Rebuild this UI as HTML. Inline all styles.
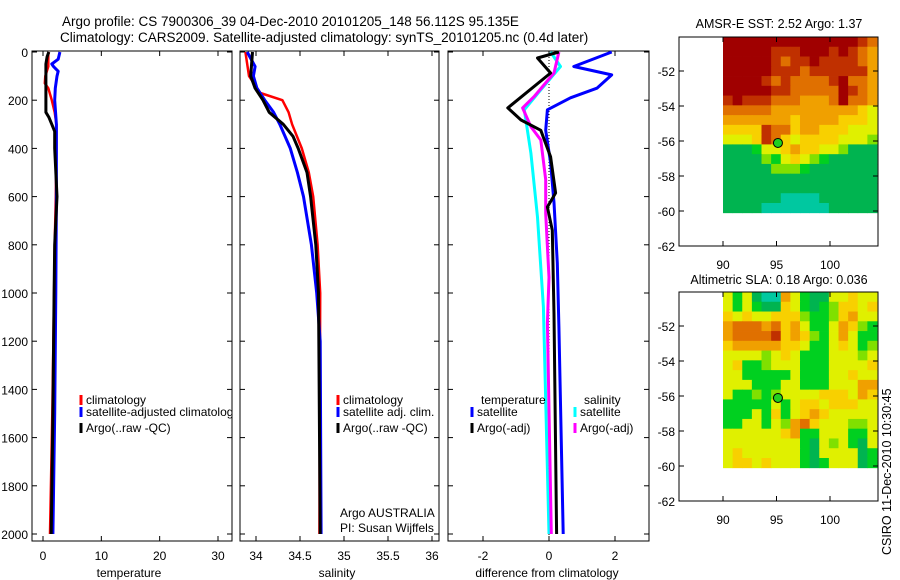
<!DOCTYPE html>
<html><head><meta charset="utf-8">
<style>
html,body{margin:0;padding:0;background:#fff;}
svg{display:block;font-family:"Liberation Sans",sans-serif;}
text{fill:#000;}
</style></head>
<body>
<svg id="fig" width="900" height="580" viewBox="0 0 900 580" xmlns="http://www.w3.org/2000/svg">
<rect width="900" height="580" fill="#fff"/>
<text x="62" y="26" font-size="13.5">Argo profile: CS 7900306_39 04-Dec-2010 20101205_148 56.112S 95.135E</text>
<text x="60" y="42" font-size="13.5">Climatology: CARS2009. Satellite-adjusted climatology: synTS_20101205.nc (0.4d later)</text>
<g id="plots"></g>
<text x="779" y="28" font-size="12.5" text-anchor="middle">AMSR-E SST: 2.52 Argo: 1.37</text>
<text x="779" y="284" font-size="12.5" text-anchor="middle">Altimetric SLA: 0.18 Argo: 0.036</text>
<text transform="translate(891,555) rotate(-90)" font-size="12.5">CSIRO 11-Dec-2010 10:30:45</text>
</svg>
<script>
// ---- depth axis ticks
const depthTicks = [0,200,400,600,800,1000,1200,1400,1600,1800,2000];
// ---- temperature panel
const tempTicks = [0,10,20,30];
const tempClimDepth = [0,10,60,100,130,150,200,250,300,400,600,800,1000,1500,2000];
const tempClim = [1.0,0.9,0.9,0.4,0.3,0.9,1.5,2.0,2.3,2.3,2.2,2.0,1.9,1.6,1.2];
const tempSatDepth = [0,30,50,60,80,100,150,200,300,400,600,1000,1500,2000];
const tempSat = [2.9,2.6,1.5,1.8,2.6,2.4,2.1,2.0,2.3,2.3,2.3,2.2,2.0,1.7];
const tempArgoDepth = [0,20,50,150,250,270,300,330,400,600,800,1000,1500,2000];
const tempArgo = [1.0,0.7,0.5,0.5,0.5,1.0,1.5,2.0,2.0,2.4,2.0,1.9,1.7,1.4];
// ---- salinity panel
const salTicks = [34,34.5,35,35.5,36];
const salTickLabels = ["34","34.5","35","35.5","36"];
const salClimDepth = [0,100,170,200,250,300,400,500,600,800,1000,2000];
const salClim = [33.88,33.92,34.05,34.30,34.37,34.41,34.52,34.60,34.65,34.70,34.73,34.72];
const salSatDepth = [0,60,100,150,200,250,300,400,500,600,800,1000,1200,2000];
const salSat = [33.90,33.99,33.97,34.01,34.10,34.20,34.27,34.39,34.47,34.54,34.63,34.69,34.73,34.74];
const salArgoDepth = [0,50,100,150,200,250,300,350,400,500,600,800,1000,2000];
const salArgo = [33.96,33.95,33.94,33.99,34.08,34.15,34.31,34.42,34.48,34.58,34.62,34.68,34.71,34.73];
// ---- difference panel
const diffTicks = [-2,0,2];
const dTempSatDepth = [0,60,95,150,190,240,325,460,625,875,1140,2000];
const dTempSat = [1.9,0.75,1.9,1.45,0.65,-0.05,-0.1,0.05,0.15,0.25,0.3,0.43];
const dTempArgoDepth = [0,25,87,232,282,325,435,585,643,740,1085,2000];
const dTempArgo = [0.3,-0.35,0.05,-1.25,-0.85,-0.25,0.05,0.2,-0.05,0.1,0.15,0.23];
const dSalSatDepth = [0,60,157,240,420,685,1058,2000];
const dSalSat = [0.05,0.35,-0.25,-0.75,-0.55,-0.35,-0.17,0.0];
const dSalArgoDepth = [0,87,185,232,310,365,530,670,935,1125,2000];
const dSalArgo = [0.3,0.15,-0.45,-0.8,-0.55,-0.25,-0.1,-0.1,0.0,-0.05,0.07];
// ---- maps
const latTicks = [-52,-54,-56,-58,-60,-62];
const lonTicks = [90,95,100];
const sstGrid = [
"9999999999999987","9999988899989876","9999987889888876","9999988878888886",
"9999878777789776","9999988777779876","8988877766679776","7777766666666654",
"6666666566665554","5555877566555444","4445875455554443","1112445655443111",
"1111324543211111","1111133321111111","1111111111111111","1111111111111111",
"1111110000111111","1111000000011111"];
const slaGrid = [
"4241006421144544","4242115421235545","5454455532235644","6777675642246532",
"6777785653246422","5666665542245423","4444345422244434","4522344422244445",
"4422222422244544","4442224422244466","4223234444555465","2222242455455544",
"2224252456544444","2244243675444334","4444445622444224","4444444421434214",
"4544444421444412","4554544421244412"];
const argoLon = 95.135, argoLat = -56.112;

const NS = "http://www.w3.org/2000/svg";
const root = document.getElementById('plots');
function mk(tag, attrs, parent){const e=document.createElementNS(NS,tag);for(const k in attrs)e.setAttribute(k,attrs[k]);(parent||root).appendChild(e);return e;}
function lin(d0,d1,r0,r1){return v=>r0+(v-d0)*(r1-r0)/(d1-d0);}
const yD = lin(0,2000,52,534);
const TOP=51, BOT=541;

function panel(name,x0,x1,xs,ticks,labels,xlabel,xlabelX){
  const g=mk('g',{});
  
  
  const r=mk('rect',{x:x0,y:TOP,width:x1-x0,height:BOT-TOP,fill:'none',stroke:'#000','stroke-width':1},g);
  
  
  ticks.forEach((t,i)=>{
    const x=xs(t);
    mk('line',{x1:x,x2:x,y1:BOT,y2:BOT-5,stroke:'#000'},g);
    mk('line',{x1:x,x2:x,y1:TOP,y2:TOP+5,stroke:'#000'},g);
    const tl=mk('text',{x:x,y:BOT+19,'font-size':12,'text-anchor':'middle'},g);
    tl.textContent=labels[i];
    
    
  });
  depthTicks.forEach(d=>{
    mk('line',{x1:x0,x2:x0+5,y1:yD(d),y2:yD(d),stroke:'#000'},g);
    mk('line',{x1:x1,x2:x1-5,y1:yD(d),y2:yD(d),stroke:'#000'},g);
  });
  const xl=mk('text',{x:xlabelX,y:577,'font-size':12,'text-anchor':'middle'},g);
  xl.textContent=xlabel;
  
  
  return g;
}
function series(g,name,xs,depths,vals,color,w){
  const pts=depths.map((d,i)=>xs(vals[i]).toFixed(1)+','+yD(d).toFixed(1)).join(' ');
  const p=mk('polyline',{points:pts,fill:'none',stroke:color,'stroke-width':w,'stroke-linejoin':'round'},g);
  
  
}
function legend(g,name,x,y,color,label){
  mk('line',{x1:x,x2:x,y1:y-9,y2:y+1,stroke:color,'stroke-width':3},g);
  const t=mk('text',{x:x+5,y:y,'font-size':12},g);
  t.textContent=label;
  
  
}
function txt(g,name,x,y,s,anchor){
  const t=mk('text',{x:x,y:y,'font-size':12,'text-anchor':anchor||'start'},g);
  t.textContent=s;
  
  
}

// depth labels
depthTicks.forEach(d=>{
  const t=mk('text',{x:28,y:yD(d)+5,'font-size':12,'text-anchor':'end'});
  t.textContent=String(d);
  
  
});

// temperature panel
const xT=lin(0,30,43,218);
const gT=panel('temperature-panel',32,232,xT,tempTicks,tempTicks.map(String),'temperature',129);
const cT=mk('g',{'clip-path':'url(#c1)'},gT);
series(cT,'temp-climatology-line',xT,tempClimDepth,tempClim,'#f00',2.5);
series(cT,'temp-satellite-line',xT,tempSatDepth,tempSat,'#00f',3);
series(cT,'temp-argo-line',xT,tempArgoDepth,tempArgo,'#000',3);
const svgEl=document.getElementById('fig');
const defs=mk('defs',{},svgEl);
const cp=mk('clipPath',{id:'c1'},defs);mk('rect',{x:32,y:TOP,width:200,height:BOT-TOP},cp);
const lgT=mk('g',{'clip-path':'url(#c1)'},gT);
legend(lgT,'legend-climatology',81,404,'#f00','climatology');
legend(lgT,'legend-satellite-adjusted',81,416,'#00f','satellite-adjusted climatology');
legend(lgT,'legend-argo',81,432,'#000','Argo(..raw -QC)');

// salinity panel
const xS=lin(34,36,256,432);
const gS=panel('salinity-panel',240,439,xS,salTicks,salTickLabels,'salinity',337);
series(gS,'sal-climatology-line',xS,salClimDepth,salClim,'#f00',2.5);
series(gS,'sal-satellite-line',xS,salSatDepth,salSat,'#00f',3);
series(gS,'sal-argo-line',xS,salArgoDepth,salArgo,'#000',3);
legend(gS,'legend-sal-climatology',338,404,'#f00','climatology');
legend(gS,'legend-sal-satellite',338,416,'#00f','satellite adj. clim.');
legend(gS,'legend-sal-argo',338,432,'#000','Argo(..raw -QC)');
txt(gS,'argo-australia-label',340,517,'Argo AUSTRALIA');
txt(gS,'pi-label',340,532,'PI: Susan Wijffels');

// difference panel
const xF=lin(-3,3,450,648);
const gF=panel('difference-panel',448,649,xF,diffTicks,diffTicks.map(String),'difference from climatology',547);
const z=mk('line',{x1:xF(0),x2:xF(0),y1:TOP,y2:BOT,stroke:'#000','stroke-width':1,'stroke-dasharray':'1,2'},gF);


series(gF,'diff-temp-satellite-line',xF,dTempSatDepth,dTempSat,'#00f',3);
series(gF,'diff-sal-satellite-line',xF,dSalSatDepth,dSalSat,'#0ff',3);
series(gF,'diff-sal-argo-line',xF,dSalArgoDepth,dSalArgo,'#f0f',3);
series(gF,'diff-temp-argo-line',xF,dTempArgoDepth,dTempArgo,'#000',3);
txt(gF,'legend-temperature-header',481,404,'temperature');
legend(gF,'legend-diff-temp-satellite',472,416,'#00f','satellite');
legend(gF,'legend-diff-temp-argo',472,432,'#000','Argo(-adj)');
txt(gF,'legend-salinity-header',584,404,'salinity');
legend(gF,'legend-diff-sal-satellite',575,416,'#0ff','satellite');
legend(gF,'legend-diff-sal-argo',575,432,'#f0f','Argo(-adj)');

// maps
const palette=['#00c8a0','#00b450','#00d020','#80e000','#e0f000','#f8d000','#f0a000','#e07000','#c03000','#a00000'];
const xLon=lin(90,100,723,830);
function map(name,grid,top){
  const yLat=lin(-52,-62,top+34,top+209);
  const g=mk('g',{});
  
  
  const gx0=723,gx1=877,gy0=top,gy1=yLat(-60.1);
  const rows=grid.length, cols=grid[0].length;
  const cw=(gx1-gx0)/cols, ch=(gy1-gy0)/rows;
  grid.forEach((row,r)=>{
    for(let c=0;c<cols;c++){
      const cell=mk('rect',{x:(gx0+c*cw).toFixed(2),y:(gy0+r*ch).toFixed(2),width:(cw+0.4).toFixed(2),height:(ch+0.4).toFixed(2),fill:palette[+row[c]]},g);
      
      
    }
  });
  const fr=mk('rect',{x:679,y:top,width:199,height:yLat(-62)-top,fill:'none',stroke:'#000'},g);
  
  
  latTicks.forEach(l=>{
    const y=yLat(l);
    mk('line',{x1:679,x2:684,y1:y,y2:y,stroke:'#000'},g);
    mk('line',{x1:878,x2:873,y1:y,y2:y,stroke:'#000'},g);
    const t=mk('text',{x:675,y:y+5,'font-size':12,'text-anchor':'end'},g);
    t.textContent=String(l);
    
    
  });
  lonTicks.forEach(l=>{
    const x=xLon(l), yb=yLat(-62);
    mk('line',{x1:x,x2:x,y1:yb,y2:yb-5,stroke:'#000'},g);
    mk('line',{x1:x,x2:x,y1:top,y2:top+5,stroke:'#000'},g);
    const t=mk('text',{x:x,y:yb+23,'font-size':12,'text-anchor':'middle'},g);
    t.textContent=String(l);
    
    
  });
  const m=mk('circle',{cx:xLon(argoLon),cy:yLat(argoLat),r:4.5,fill:'#20d020',stroke:'#000','stroke-width':1},g);
  
  
}
map('sst-map',sstGrid,37);
map('sla-map',slaGrid,292);
</script>
</body></html>
